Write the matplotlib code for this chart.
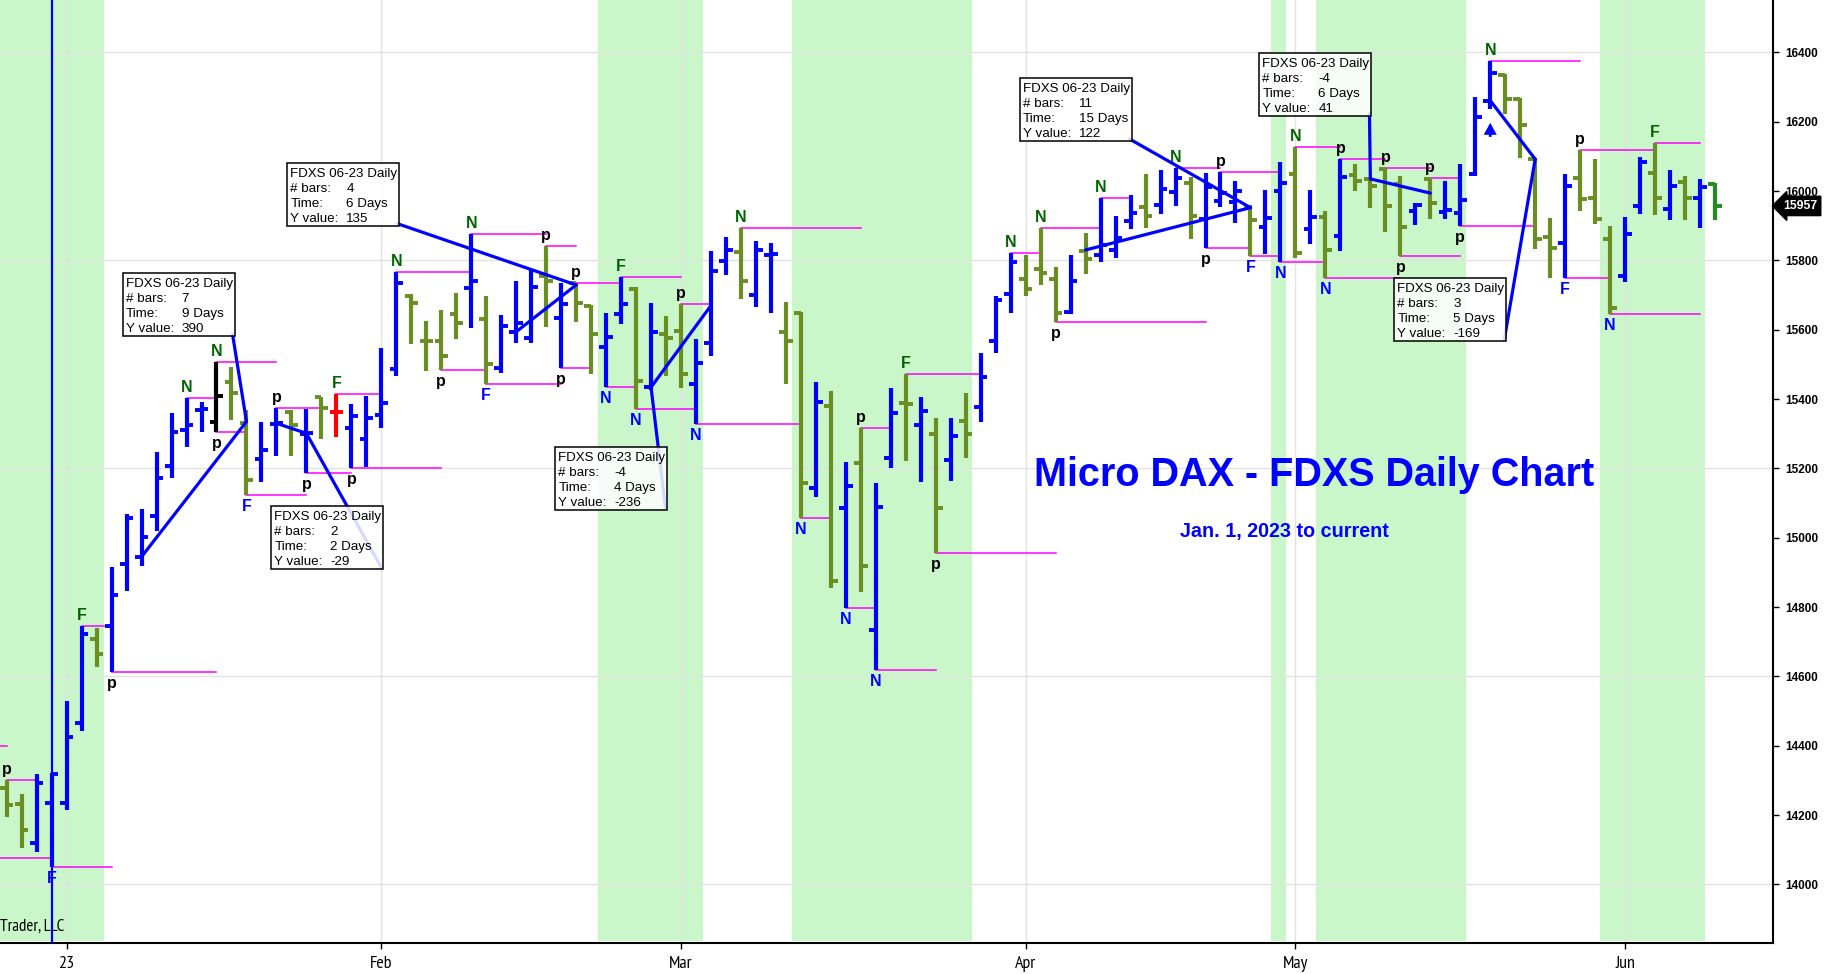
#!/usr/bin/env python3
# Micro DAX (FDXS) daily bar chart with swing labels and measure boxes

import matplotlib
matplotlib.use('Agg')
import matplotlib.pyplot as plt
import matplotlib.transforms as mtransforms
from matplotlib import font_manager
from matplotlib.patches import Rectangle

# Daily OHLC bars on a trading-day axis (bar 4 = first bar of 2023)
opens = [14278, 14231, 14120, 14234, 14235, 14466, 14707, 14745, 14923, 14945,
         15063, 15207, 15311, 15369, 15333, 15448, 15332, 15227, 15328, 15363,
         15298, 15405, 15364, 15316, 15284, 15354, 15486, 15698, 15567, 15568,
         15645, 15719, 15631, 15490, 15594, 15575, 15755, 15633, 15734, 15669,
         15551, 15644, 15717, 15434, 15587, 15597, 15443, 15562, 15798, 15825,
         15700, 15815, 15593, 15649, 15143, 15381, 15085, 15215, 14734, 15231,
         15388, 15326, 15300, 15224, 15338, 15378, 15566, 15702, 15746, 15774,
         15746, 15652, 15828, 15814, 15830, 15914, 15953, 15960, 15998, 16024,
         15919, 15970, 15968, 15955, 15896, 16001, 16050, 15891, 15926, 15871,
         16045, 16035, 16064, 16020, 15943, 16034, 15940, 15937, 16049, 16261,
         16336, 16264, 16092, 15868, 15849, 16037, 15981, 15862, 15756, 15958,
         16053, 15948, 16025, 15980, 16020]
highs = [14301, 14260, 14317, 14322, 14529, 14745, 14739, 14916, 15067, 15082,
         15248, 15359, 15402, 15391, 15506, 15493, 15368, 15333, 15375, 15368,
         15372, 15407, 15414, 15386, 15409, 15546, 15765, 15703, 15625, 15657,
         15705, 15877, 15698, 15641, 15741, 15771, 15842, 15736, 15736, 15671,
         15647, 15751, 15724, 15677, 15640, 15674, 15574, 15828, 15866, 15893,
         15856, 15849, 15679, 15652, 15450, 15423, 15219, 15317, 15157, 15431,
         15471, 15405, 15344, 15344, 15418, 15532, 15697, 15821, 15816, 15894,
         15782, 15816, 15878, 15980, 15928, 15989, 16049, 16061, 16067, 16041,
         16053, 16054, 16029, 15960, 16003, 16085, 16128, 16003, 15941, 16092,
         16077, 16037, 16067, 16044, 15965, 16037, 16029, 16077, 16272, 16376,
         16337, 16268, 16096, 15922, 16049, 16118, 16092, 15899, 15924, 16099,
         16138, 16061, 16044, 16035, 16022]
lows = [14194, 14104, 14094, 14049, 14215, 14443, 14628, 14614, 14847, 14919,
        15020, 15173, 15262, 15306, 15306, 15340, 15123, 15160, 15237, 15237,
        15186, 15284, 15290, 15200, 15205, 15316, 15465, 15558, 15482, 15484,
        15573, 15606, 15443, 15474, 15561, 15561, 15607, 15489, 15623, 15471,
        15436, 15617, 15370, 15427, 15467, 15433, 15328, 15525, 15758, 15689,
        15666, 15647, 15443, 15056, 15117, 14854, 14796, 14844, 14618, 15200,
        15222, 15162, 14955, 15164, 15229, 15333, 15532, 15649, 15698, 15729,
        15621, 15645, 15761, 15794, 15808, 15891, 15894, 15933, 15958, 15862,
        15835, 15955, 15907, 15813, 15818, 15794, 15806, 15846, 15748, 15828,
        16001, 15950, 15882, 15813, 15902, 15919, 15919, 15899, 16044, 16237,
        16222, 16094, 15832, 15750, 15748, 15943, 15904, 15644, 15738, 15934,
        15931, 15915, 15915, 15894, 15917]
closes = [14229, 14158, 14293, 14319, 14426, 14721, 14664, 14835, 15056, 15003,
          15173, 15306, 15325, 15372, 15410, 15417, 15166, 15253, 15330, 15325,
          15302, 15373, 15364, 15352, 15344, 15389, 15736, 15678, 15566, 15525,
          15620, 15739, 15500, 15612, 15618, 15722, 15739, 15673, 15678, 15588,
          15580, 15674, 15452, 15594, 15575, 15471, 15503, 15770, 15830, 15739,
          15831, 15817, 15568, 15159, 15392, 14875, 15150, 14919, 15088, 15359,
          15386, 15366, 15087, 15293, 15298, 15464, 15686, 15796, 15718, 15763,
          15647, 15741, 15803, 15844, 15864, 15936, 15928, 16005, 16037, 15928,
          16011, 15994, 16001, 15917, 15921, 16022, 15820, 15924, 15830, 16041,
          16029, 16015, 15957, 15897, 15960, 15965, 15945, 15974, 16213, 16340,
          16265, 16191, 15862, 15835, 16015, 15977, 15920, 15663, 15875, 16085,
          15980, 16015, 15980, 16011, 15957]
special_colors = {14: 'black', 22: 'red', 114: 'forestgreen'}

month_ticks = [4, 25, 45, 68, 86, 108]
month_labels = ['23', 'Feb', 'Mar', 'Apr', 'May', 'Jun']
price_ticks = list(range(14000, 16401, 200))
grid_prices = [14000, 14600, 15200, 15800, 16400]

# Shaded periods (in bar units) and the vertical marker bar
shaded_spans = [(-1, 6.5), (39.45, 46.45), (52.4, 64.4), (84.4, 85.35),
                (87.35, 97.35), (106.35, 113.35)]
marker_bar = 3

# Swing labels: (bar, letter)
labels_above = [(0, 'p'), (5, 'F'), (12, 'N'), (14, 'N'), (18, 'p'), (22, 'F'),
                (26, 'N'), (31, 'N'), (36, 'p'), (38, 'p'), (41, 'F'), (45, 'p'),
                (49, 'N'), (57, 'p'), (60, 'F'), (67, 'N'), (69, 'N'), (73, 'N'),
                (78, 'N'), (81, 'p'), (86, 'N'), (89, 'p'), (92, 'p'), (95, 'p'),
                (99, 'N'), (105, 'p'), (110, 'F')]
labels_below = [(3, 'F'), (7, 'p'), (14, 'p'), (16, 'F'), (20, 'p'), (23, 'p'),
                (29, 'p'), (32, 'F'), (37, 'p'), (40, 'N'), (42, 'N'), (46, 'N'),
                (53, 'N'), (56, 'N'), (58, 'N'), (62, 'p'), (70, 'p'), (80, 'p'),
                (83, 'F'), (85, 'N'), (88, 'N'), (93, 'p'), (97, 'p'), (104, 'F'),
                (107, 'N')]

# Level lines from a bar's high / low out to a later bar
high_lines = [(0, 2), (5, 7), (12, 14), (14, 18), (18, 21), (22, 25), (26, 31),
              (31, 36), (36, 38), (38, 41), (41, 45), (45, 47), (49, 57), (57, 59),
              (60, 65), (67, 69), (69, 73), (73, 75), (78, 81), (81, 85), (86, 89),
              (89, 92), (92, 95), (95, 97), (99, 105), (105, 110), (110, 113)]
low_lines = [(3, 7), (7, 14), (14, 16), (16, 20), (20, 23), (23, 29), (29, 32),
             (32, 37), (37, 39), (40, 42), (42, 46), (46, 53), (53, 55), (56, 58),
             (58, 62), (62, 70), (70, 80), (80, 83), (83, 85), (85, 88), (88, 93),
             (93, 97), (97, 102), (104, 107), (107, 113)]
carried_levels = [(0, 14399), (3, 14076)]

# Measure lines: (start bar, start price, end bar, end price)
measure_lines = [(9, 14945, 16, 15335), (18, 15330, 20, 15301),
                 (34, 15594, 38, 15729), (47, 15670, 43, 15434),
                 (72, 15830, 83, 15952), (95, 15994, 91, 16035),
                 (99, 16261, 102, 16092)]
measure_boxes = [(7.73, 15763), (17.65, 15091), (18.72, 16082), (36.62, 15262),
                 (67.59, 16326), (83.6, 16399), (92.6, 15748)]
measure_values = [('7', '9 Days', '390'), ('2', '2 Days', '-29'),
                  ('4', '6 Days', '135'), ('-4', '4 Days', '-236'),
                  ('11', '15 Days', '122'), ('-4', '6 Days', '41'),
                  ('3', '5 Days', '-169')]
box_title = 'FDXS 06-23 Daily'
box_rows = ['# bars:', 'Time:', 'Y value:']

arrow_bars = [99]
last_price = 15957

BLUE = '#0000ff'
OLIVE = '#6b8e23'
MAGENTA = '#ff00ff'
DKGREEN = '#006400'


def pick_font(names, default):
    have = {f.name for f in font_manager.fontManager.ttflist}
    for n in names:
        if n in have:
            return n
    return default


def find_narrow():
    ''' A narrow/condensed sans face for the date axis, if one is installed.'''
    best = None
    for f in font_manager.fontManager.ttflist:
        n = f.fname.lower()
        if 'sans' not in n or 'mono' in n:
            continue
        if any(s in n for s in ('bold', 'oblique', 'italic')):
            continue
        if 'narrow' in n:
            return font_manager.FontProperties(fname=f.fname), 13
        if 'condensed' in n and best is None:
            best = font_manager.FontProperties(fname=f.fname)
    if best is not None:
        return best, 12
    return font_manager.FontProperties(family='Liberation Sans'), 11


def draw_bars(ax):
    for i in range(len(opens)):
        if i in special_colors:
            c = special_colors[i]
        else:
            c = BLUE if closes[i] >= opens[i] else OLIVE
        ax.plot([i, i], [lows[i], highs[i]], color=c, lw=3.0,
                solid_capstyle='butt', zorder=3)
        ax.plot([i - 0.45, i], [opens[i], opens[i]], color=c, lw=2.8,
                solid_capstyle='butt', zorder=3)
        ax.plot([i, i + 0.45], [closes[i], closes[i]], color=c, lw=2.8,
                solid_capstyle='butt', zorder=3)


def draw_swings(ax, font):
    for b0, b1 in high_lines:
        ax.plot([b0, b1], [highs[b0], highs[b0]], color=MAGENTA, lw=1.1, zorder=2)
    for b0, b1 in low_lines:
        ax.plot([b0, b1], [lows[b0], lows[b0]], color=MAGENTA, lw=1.1, zorder=2)
    for b1, level in carried_levels:
        ax.plot([-1, b1], [level, level], color=MAGENTA, lw=1.1, zorder=2)

    for b, t in labels_above:
        c = 'black' if t == 'p' else DKGREEN
        ax.annotate(t, xy=(b, highs[b]), xytext=(0, 6), textcoords='offset pixels',
                    ha='center', va='baseline', color=c, fontsize=11.5,
                    fontweight='bold', family=font, zorder=6)
    for b, t in labels_below:
        c = 'black' if t == 'p' else BLUE
        ax.annotate(t, xy=(b, lows[b]), xytext=(0, -16), textcoords='offset pixels',
                    ha='center', va='baseline', color=c, fontsize=11.5,
                    fontweight='bold', family=font, zorder=6)

    # small up arrow under the bar
    for b in arrow_bars:
        tip = mtransforms.offset_copy(ax.transData, fig=ax.figure, y=-14, units='dots')
        ax.annotate('', xy=(b, lows[b]), xycoords=tip, xytext=(0, -14),
                    textcoords='offset pixels',
                    arrowprops=dict(arrowstyle='-|>,head_width=0.3,head_length=0.55',
                                    color=BLUE, lw=2.0, shrinkA=0, shrinkB=0,
                                    joinstyle='miter', capstyle='butt'),
                    zorder=6)


def draw_measures(ax, font):
    inv = ax.transData.inverted()
    bw, bh = 112, 63
    for (b0, p0, b1, p1), (bx, by), vals in zip(measure_lines, measure_boxes,
                                                measure_values):
        ax.plot([b0, b1], [p0, p1], color=BLUE, lw=2.3, zorder=4,
                solid_capstyle='round')
        x0, y0 = ax.transData.transform((bx, by))
        cx, cy = inv.transform((x0 + bw - 2, y0 - bh + 2))
        ax.plot([b1, cx], [p1, cy], color=BLUE, lw=2.3, zorder=4,
                solid_capstyle='round')
        ax.add_artist(Rectangle((x0, y0 - bh), bw, bh,
                                transform=mtransforms.IdentityTransform(),
                                facecolor='white', lw=0, alpha=0.85, zorder=5))
        ax.add_artist(Rectangle((x0, y0 - bh), bw, bh,
                                transform=mtransforms.IdentityTransform(),
                                facecolor='none', edgecolor='black', lw=1.1, zorder=5))
        ax.annotate(box_title, xy=(bx, by), xytext=(3, -11), textcoords='offset pixels',
                    ha='left', va='center', fontsize=9.6, family=font, zorder=6)
        for k, (row, v) in enumerate(zip(box_rows, vals)):
            dy = -11 - 15 * (k + 1)
            ax.annotate(row, xy=(bx, by), xytext=(3, dy), textcoords='offset pixels',
                        ha='left', va='center', fontsize=9.6, family=font, zorder=6)
            ax.annotate(v, xy=(bx, by), xytext=(59, dy), textcoords='offset pixels',
                        ha='left', va='center', fontsize=9.6, family=font, zorder=6)


if __name__ == "__main__":

    sans = pick_font(['Liberation Sans', 'Arial'], 'DejaVu Sans')
    narrow, narrow_size = find_narrow()

    fig = plt.figure(figsize=(18.25, 9.74), dpi=100)
    ax = fig.add_axes([0, 1 - 943.3 / 974, 1773 / 1825, 943.3 / 974])
    ax.set_xlim(-0.447, 117.87)
    ax.set_ylim(13830, 16551)

    for a, b in shaded_spans:
        ax.axvspan(a, b, ymin=0.002, color='#c9f7c9', lw=0, zorder=0)
    for p in grid_prices:
        ax.axhline(p, color='#e2e2e2', lw=1.0, zorder=0.5)
    for t in month_ticks:
        ax.axvline(t, color='#e2e2e2', lw=1.0, zorder=0.5)
    ax.axvline(marker_bar, color=BLUE, lw=1.6, zorder=3.5)

    draw_swings(ax, sans)
    draw_bars(ax)
    draw_measures(ax, sans)

    ax.text(0.741, 0.4848, 'Micro DAX - FDXS Daily Chart', transform=ax.transAxes,
            ha='center', va='baseline', color=BLUE, fontsize=28.5,
            fontweight='bold', family=sans)
    ax.text(0.7247, 0.4304, 'Jan. 1, 2023 to current', transform=ax.transAxes,
            ha='center', va='baseline', color=BLUE, fontsize=14.2,
            fontweight='bold', family=sans)
    ax.text(0.0, 0.0095, 'Trader, LLC', transform=ax.transAxes,
            ha='left', va='bottom', fontproperties=narrow,
            fontsize=narrow_size - 0.8)

    # Axes frame and ticks
    for s in ['left', 'top']:
        ax.spines[s].set_visible(False)
    for s in ['right', 'bottom']:
        ax.spines[s].set_linewidth(1.5)
    ax.yaxis.tick_right()
    ax.set_yticks(price_ticks)
    ax.set_yticklabels([str(p) for p in price_ticks], fontsize=8.5,
                       fontweight='bold', family=sans)
    ax.set_xticks(month_ticks)
    ax.set_xticklabels(month_labels)
    for lbl in ax.get_xticklabels():
        lbl.set_fontproperties(narrow)
        lbl.set_fontsize(narrow_size)
        lbl.set_fontweight('bold')
    ax.tick_params(axis='y', length=4, width=1, pad=4.5)
    ax.tick_params(axis='x', length=4.5, width=1, pad=5)

    # Last price tag
    tag = mtransforms.blended_transform_factory(ax.transAxes, ax.transData)
    ax.annotate(str(last_price), xy=(1.0, last_price), xycoords=tag,
                xytext=(10, 0), textcoords='offset pixels', ha='left', va='center',
                color='white', fontsize=8.8, fontweight='bold', family=sans,
                bbox=dict(boxstyle='larrow,pad=0.3', fc='black', ec='black'),
                annotation_clip=False, zorder=10)

    fig.savefig('out.png', dpi=100)
